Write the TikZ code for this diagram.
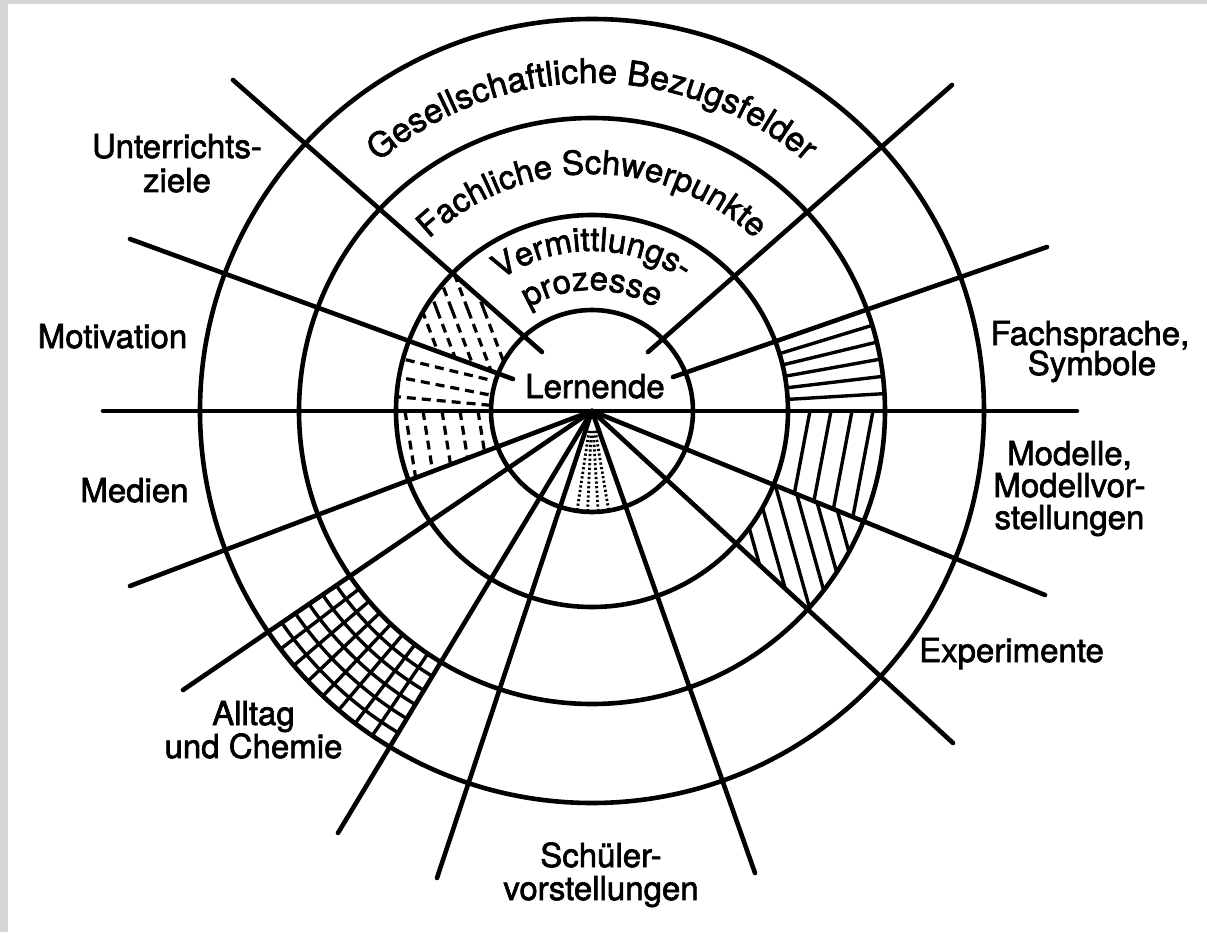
\documentclass[tikz,border=0pt]{standalone}
\usepackage{fontspec}
\setmainfont{TeX Gyre Heros}
\newfontfamily\lblfont{TeX Gyre Heros}[FakeBold=2]
\usetikzlibrary{decorations.text}
\begin{document}
\begin{tikzpicture}[x=1pt,y=1pt,
  mainline/.style={line width=4.6pt, line cap=round},
  hatchsolid/.style={line width=3.4pt},
  hatchdash/.style={line width=3.2pt, dash pattern=on 9pt off 6pt},
  hatchdot/.style={line width=2.8pt, dash pattern=on 2.2pt off 2.4pt},
  gridline/.style={line width=3.4pt},
  lbl/.style={font=\lblfont\fontsize{33}{33}\selectfont, inner sep=0pt, anchor=base},
]
% background and frame
\fill[black!16] (-592,-521) rectangle (615,411);
\fill[white] (-584,-521) rectangle (615,407);
\useasboundingbox (-592,-521) rectangle (615,411);
\coordinate (O) at (0,0);

% ---------- hatches ----------
% dashed hatch, ring 1-2, left
\begin{scope}
  \clip (196,0) arc[start angle=0, end angle=360, radius=196]
     -- (101,0) arc[start angle=360, end angle=0, radius=101] -- cycle;
  \begin{scope}
    \clip (-50,59) -- (-359,331) -- (-462,172) -- (-79,32) -- cycle;
    \foreach \c in {-170,-155,-140,-124,-108}
      \draw[hatchdash] (\c,101) -- ++({0.38*-100},100) (\c,101) -- ++({0.38*150},-150);
  \end{scope}
  \begin{scope}
    \clip (-79,32) -- (-462,172) -- (-500,0) -- (-79,0) -- cycle;
    \draw[hatchdash] (-230,61.8) -- (-60,20.9);
    \draw[hatchdash] (-230,41) -- (-60,7.8);
    \draw[hatchdash] (-230,17.5) -- (-60,1.9);
  \end{scope}
  \begin{scope}
    \clip (O) -- (-500,0) -- (200.75:520) -- cycle;
    \foreach \c in {-187,-169,-150,-132,-114}
      \draw[hatchdash] (\c,0) -- ++({0.16*-200},200) (\c,0) -- ++({0.16*200},-200);
  \end{scope}
\end{scope}

% ring 2-3 hatches, right
\foreach \a in {3.4,6.8,10.2,13.6,17.0}
  \draw[hatchsolid] (\a:196) -- (\a:293);
\begin{scope}
  \clip (293,0) arc[start angle=0, end angle=360, radius=293]
     -- (196,0) arc[start angle=360, end angle=0, radius=196] -- cycle;
  \begin{scope}
    \clip (O) -- (500,0) -- (-22.1:520) -- cycle;
    \foreach \c in {218,239,260,281}
      \draw[hatchsolid] (\c,0) -- ++({0.19*50},50) (\c,0) -- ++({-0.19*250},-250);
  \end{scope}
  \begin{scope}
    \clip (O) -- (-22.1:520) -- (-42.7:520) -- cycle;
    \foreach \c in {148,167,186,205,223,241}
      \draw[hatchsolid] (\c,-84) -- ++({-0.28*100},100) (\c,-84) -- ++({0.28*250},-250);
  \end{scope}
\end{scope}

% grid, ring 3-4, Alltag
\begin{scope}
  \clip (214.3:293) arc[start angle=214.3, end angle=238.9, radius=293]
     -- (238.9:392) arc[start angle=238.9, end angle=214.3, radius=392] -- cycle;
  \foreach \r in {309.5,326,342.5,359,375.5}
    \draw[gridline] (O) circle (\r);
  \foreach \a in {1,...,7}
    \draw[gridline] ({214.3+\a*3.0875}:280) -- ({214.3+\a*3.0875}:400);
\end{scope}

% dotted, centre, Schueler
\foreach \a in {261.5,267.5,273.5,279.5}
  \draw[hatchdot] (\a:20) -- (\a:100);

% ---------- circles ----------
\foreach \r in {101,196,293,392}
  \draw[mainline] (O) circle (\r);

% ---------- rays ----------
\draw[mainline] (-489,0) -- (485,0);
\coordinate (eMod) at (453,-184);
\coordinate (eExp) at (361,-332);
\coordinate (eSchR) at (163,-462);
\coordinate (eSchL) at (-155,-467);
\coordinate (eAllL) at (-254,-422);
\coordinate (eAllU) at (-409,-279);
\coordinate (eMed) at (-462,-175);
\foreach \e in {eMod,eExp,eSchR,eSchL,eAllL,eAllU,eMed}
  \draw[mainline] (O) -- (\e);
\coordinate (uL1) at (-359,331); \coordinate (uL2) at (-50,59);
\coordinate (mo1) at (-462,172); \coordinate (mo2) at (-79,32);
\coordinate (uR1) at (360,326);  \coordinate (uR2) at (56,59);
\coordinate (fs1) at (455,164);  \coordinate (fs2) at (81,34);
\draw[mainline] (uL1) -- (uL2);
\draw[mainline] (mo1) -- (mo2);
\draw[mainline] (uR1) -- (uR2);
\draw[mainline] (fs1) -- (fs2);

% ---------- curved texts ----------
\path[decorate, decoration={text along path, text align=center,
   text={|\lblfont\fontsize{34}{34}\selectfont|Gesellschaftliche Bezugsfelder}}]
   (150:328) arc[start angle=150, end angle=30, radius=328];
\path[decorate, decoration={text along path, text align=center,
   text={|\lblfont\fontsize{33}{33}\selectfont|Fachliche Schwerpunkte}}]
   (150:237) arc[start angle=150, end angle=30, radius=237];
\path[decorate, decoration={text along path, text align=center,
   text={|\lblfont\fontsize{33}{33}\selectfont|Vermittlungs-}}]
   (150:160) arc[start angle=150, end angle=30, radius=160];
\path[decorate, decoration={text along path, text align=center,
   text={|\lblfont\fontsize{33}{33}\selectfont|prozesse}}]
   (150:121) arc[start angle=150, end angle=30, radius=121];

% ---------- labels ----------
\node[lbl] (unt1) at (-415,253) {Unterrichts-};
\node[lbl] (unt2) at (-415,219) {ziele};
\node[lbl] (mot) at (-479.5,63) {Motivation};
\node[lbl] (med) at (-457.5,-91) {Medien};
\node[lbl] (all1) at (-338.5,-314) {Alltag};
\node[lbl] (all2) at (-338.5,-347) {und Chemie};
\node[lbl] (sch1) at (9,-456) {Schüler-};
\node[lbl] (sch2) at (9,-489) {vorstellungen};
\node[lbl] (exp) at (419.5,-251) {Experimente};
\node[lbl] (mod1) at (477.5,-54) {Modelle,};
\node[lbl] (mod2) at (477.5,-86) {Modellvor-};
\node[lbl] (mod3) at (477.5,-118) {stellungen};
\node[lbl] (fach1) at (498,66) {Fachsprache,};
\node[lbl] (fach2) at (500,36) {Symbole};
\node[lbl] (lern) at (3,13) {Lernende};
\end{tikzpicture}
\end{document}
